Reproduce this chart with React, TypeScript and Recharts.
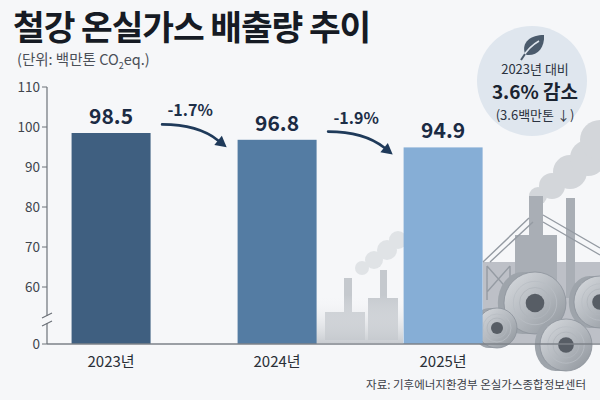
import React from 'react';
import {
    ComposedChart, Bar, Scatter, XAxis, YAxis, LabelList
} from 'recharts';

const years = ['2023년', '2024년', '2025년'];
const emissions = [98.5, 96.8, 94.9];
const changeLabels = ['-1.7%', '-1.9%'];
const yTicks = [60, 70, 80, 90, 100, 110];

// axis is broken between 0 and 60: the bottom of the axis stands for 0
const AXIS_ZERO = 45.75;

const FONT = "'Noto Sans CJK KR', 'Noto Sans', sans-serif";
const BG = '#f6f7f9';
const barColors = ['#3f5f80', '#547ca3', '#86aed6'];

const barData = years.map((year, i) => ({ idx: i, year, value: emissions[i] }));
const arrowData = changeLabels.map((label, i) => ({
    idx: i + 0.5,
    value: (emissions[i] + emissions[i + 1]) / 2,
    label,
}));

const ChangeArrow = (props: any) => {
    const { cx, cy, payload } = props;
    const sx = cx - 32, sy = cy - 12;
    const qx = cx + 4, qy = cy - 12;
    const ex = cx + 24, ey = cy + 4;
    const ang = Math.atan2(ey - qy, ex - qx);
    const len = 11, half = 6;
    const tipX = ex + Math.cos(ang) * len;
    const tipY = ey + Math.sin(ang) * len;
    const lx = ex + Math.cos(ang + Math.PI / 2) * half;
    const ly = ey + Math.sin(ang + Math.PI / 2) * half;
    const rx = ex + Math.cos(ang - Math.PI / 2) * half;
    const ry = ey + Math.sin(ang - Math.PI / 2) * half;
    return (
        <g>
            <path d={`M${sx},${sy} Q${qx},${qy} ${ex},${ey}`} fill="none" stroke="#1f3a5a" strokeWidth={2.6} strokeLinecap="round" />
            <polygon points={`${tipX},${tipY} ${lx},${ly} ${rx},${ry}`} fill="#1f3a5a" />
            <text x={cx - 4} y={cy - 20} textAnchor="middle" fontSize={16} fontWeight={700} fill="#1d2f48" fontFamily={FONT}>
                {payload.label}
            </text>
        </g>
    );
};

const Coil = ({ x, y, r }: { x: number; y: number; r: number }) => (
    <g>
        <ellipse cx={x - r * 0.4} cy={y} rx={r * 0.8} ry={r} fill="#9ea4ab" />
        <rect x={x - r * 0.4} y={y - r} width={r * 0.4} height={r * 2} fill="#9ea4ab" />
        <circle cx={x} cy={y} r={r} fill="url(#coilGrad)" stroke="#8c929a" strokeWidth={0.8} />
        <circle cx={x} cy={y} r={r * 0.7} fill="none" stroke="#b9bec4" strokeWidth={0.8} />
        <circle cx={x} cy={y} r={r * 0.5} fill="none" stroke="#b0b5bb" strokeWidth={0.8} />
        <circle cx={x} cy={y} r={r * 0.3} fill="#575d65" />
    </g>
);

const Factory = () => (
    <svg width={600} height={400} style={{ position: 'absolute', left: 0, top: 0 }}>
        <defs>
            <linearGradient id="coilGrad" x1="0" y1="0" x2="1" y2="1">
                <stop offset="0%" stopColor="#d9dce0" />
                <stop offset="55%" stopColor="#b1b6bc" />
                <stop offset="100%" stopColor="#8d939a" />
            </linearGradient>
            <linearGradient id="fadeGrad" x1="0" y1="0" x2="0" y2="1">
                <stop offset="0%" stopColor={BG} stopOpacity={0} />
                <stop offset="100%" stopColor="#c4c8cd" stopOpacity={0.9} />
            </linearGradient>
        </defs>
        {/* small plant between 2024 and 2025 */}
        <g fill="#e0e3e6">
            <circle cx={362} cy={268} r={7} />
            <circle cx={374} cy={260} r={9} />
            <circle cx={387} cy={250} r={10} />
            <circle cx={398} cy={240} r={9} />
        </g>
        <g fill="#b5bac0" opacity={0.75}>
            <rect x={344} y={278} width={8} height={62} />
            <rect x={380} y={270} width={7} height={70} />
            <rect x={368} y={298} width={30} height={42} />
            <rect x={325} y={312} width={40} height={28} />
        </g>
        <rect x={315} y={295} width={88} height={48} fill="url(#fadeGrad)" />
        {/* smoke on the right */}
        <g fill="#d3d6da">
            <circle cx={538} cy={196} r={9} />
            <circle cx={552} cy={186} r={13} />
            <circle cx={570} cy={172} r={17} />
            <circle cx={588} cy={158} r={18} />
            <circle cx={600} cy={140} r={20} />
        </g>
        {/* blast furnace and frames */}
        <g fill="#a9aeb5">
            <rect x={529} y={196} width={14} height={60} />
            <rect x={566} y={198} width={9} height={100} />
            <rect x={515} y={235} width={42} height={60} />
            <rect x={483} y={262} width={117} height={81} opacity={0.75} />
        </g>
        <g stroke="#959ba3" strokeWidth={1.4} fill="none">
            <path d="M483,262 L529,218 M490,262 L533,222" />
            <path d="M543,215 L600,248 M543,222 L600,255" />
            <path d="M487,266 L510,292 M510,266 L487,292 M487,266 L487,300 M510,266 L510,300" />
        </g>
        <Coil x={535} y={303} r={31} />
        <Coil x={600} y={302} r={26} />
        <Coil x={497} y={328} r={20} />
        <Coil x={566} y={345} r={26} />
    </svg>
);

export default function App() {
    return (
        <div style={{ position: 'absolute', left: 0, top: 0, width: 600, height: 400, background: BG, overflow: 'hidden', fontFamily: FONT }}>
            <Factory />
            <div style={{ position: 'absolute', left: 13, top: 4, fontSize: 34.5, lineHeight: 1.25, fontWeight: 700, color: '#161b24', letterSpacing: -1.1 }}>
                철강 온실가스 배출량 추이
            </div>
            <div style={{ position: 'absolute', left: 17, top: 50, fontSize: 14.5, lineHeight: 1.2, color: '#4a4f57' }}>
                (단위: 백만톤 CO<sub style={{ fontSize: 9, lineHeight: 0 }}>2</sub>eq.)
            </div>
            <svg width={600} height={400} style={{ position: 'absolute', left: 0, top: 0 }}>
                <circle cx={532} cy={81} r={55} fill="#dfe6ee" />
                <g transform="translate(533,46)" fill="#4b5b6c">
                    <path d="M-8,8 C-12,-4 -2,-11 11,-11 C12,2 4,10 -6,9 Z" />
                    <path d="M-10,11 C-6,4 -1,-1 6,-5" stroke="#dfe6ee" strokeWidth={1.6} fill="none" />
                    <path d="M-12,14 L-8,8" stroke="#4b5b6c" strokeWidth={2} />
                </g>
                <text x={535} y={74} textAnchor="middle" fontSize={13} fill="#2b3340" fontFamily={FONT}>2023년 대비</text>
                <text x={535} y={99} textAnchor="middle" fontSize={19} fontWeight={700} fill="#1a2330" fontFamily={FONT}>3.6% 감소</text>
                <text x={535} y={120} textAnchor="middle" fontSize={13} fill="#2b3340" fontFamily={FONT}>(3.6백만톤 ↓)</text>
            </svg>
            <div style={{ position: 'absolute', left: 0, top: 0 }}>
                <ComposedChart width={600} height={400} data={barData} margin={{ top: 87, right: 0, bottom: 26, left: 0 }}>
                    <XAxis
                        dataKey="idx"
                        type="number"
                        domain={[-0.386, 2.945]}
                        ticks={[0, 1, 2]}
                        tickFormatter={(v: number) => years[v] ?? ''}
                        tickLine={false}
                        axisLine={{ stroke: '#7d8289', strokeWidth: 1.5 }}
                        tick={{ fontSize: 15, fill: '#2a2f37', fontFamily: FONT }}
                        tickMargin={6}
                        height={30}
                    />
                    <YAxis
                        type="number"
                        domain={[AXIS_ZERO, 110]}
                        ticks={[AXIS_ZERO, ...yTicks]}
                        tickFormatter={(v: number) => (v < 60 ? '0' : String(v))}
                        width={47}
                        tickSize={5}
                        axisLine={{ stroke: '#6d7279', strokeWidth: 1.2 }}
                        tickLine={{ stroke: '#6d7279' }}
                        tick={{ fontSize: 13.5, fill: '#40454d', fontFamily: FONT }}
                    />
                    <Bar dataKey="value" barSize={79} isAnimationActive={false}
                        shape={(p: any) => (
                            <rect x={p.x} y={p.y} width={p.width} height={p.height} fill={barColors[p.index]} />
                        )}
                    >
                        <LabelList dataKey="value" position="top" offset={9}
                            formatter={(v: any) => Number(v).toFixed(1)}
                            style={{ fontSize: 21, fontWeight: 700, fill: '#1b2b44', fontFamily: FONT }} />
                    </Bar>
                    <Scatter data={arrowData} dataKey="value" isAnimationActive={false} shape={ChangeArrow} />
                </ComposedChart>
            </div>
            <svg width={600} height={400} style={{ position: 'absolute', left: 0, top: 0, pointerEvents: 'none' }}>
                <rect x={42} y={316} width={10} height={7} fill={BG} />
                <path d="M42,318 L52,313 M42,326 L52,321" stroke="#6d7279" strokeWidth={1.2} />
            </svg>
            <div style={{ position: 'absolute', right: 14, top: 376, fontSize: 11.5, color: '#3b4048' }}>
                자료: 기후에너지환경부 온실가스종합정보센터
            </div>
        </div>
    );
}
